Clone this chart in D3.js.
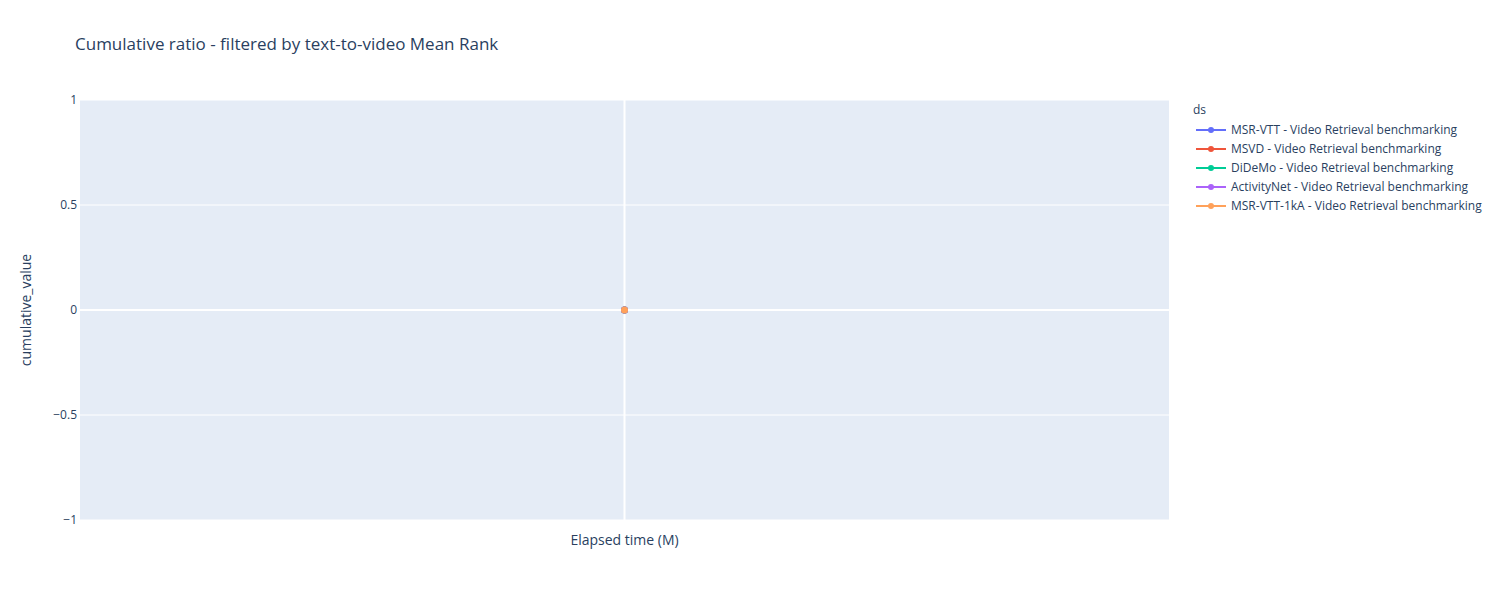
<!DOCTYPE html>
<html><head><meta charset="utf-8">
<script src="https://cdn.jsdelivr.net/npm/d3@7"></script>
<style>body{margin:0;background:#fff;} text{font-family:"Open Sans",sans-serif;}</style>
</head><body><svg id="c" width="1500" height="600"></svg>
<script>
const seriesNames = ["MSR-VTT - Video Retrieval benchmarking","MSVD - Video Retrieval benchmarking","DiDeMo - Video Retrieval benchmarking","ActivityNet - Video Retrieval benchmarking","MSR-VTT-1kA - Video Retrieval benchmarking"];
const seriesColors = ["#636efa","#EF553B","#00cc96","#ab63fa","#FFA15A"];
const xCategories = [""];
const seriesValues = [[0],[0],[0],[0],[0]];
const yTicks = [-1,-0.5,0,0.5,1];

const svg = d3.select("#c");
const L=80, T=100, R=1169, B=520;
svg.append("rect").attr("x",L).attr("y",T).attr("width",R-L).attr("height",B-T).attr("fill","#e5ecf6");
const x = d3.scalePoint().domain(xCategories).range([L,R]).padding(0.5);
const y = d3.scaleLinear().domain([-1,1]).range([B,T]);
const fmt = v => v<0 ? "\u2212"+Math.abs(v) : String(v);
// gridlines
const g = svg.append("g");
yTicks.forEach(t=>{
  g.append("line").attr("x1",L).attr("x2",R).attr("y1",y(t)).attr("y2",y(t)).attr("stroke","#fff").attr("stroke-width",t===0?2:1);
});
xCategories.forEach(c=>{
  g.append("line").attr("x1",x(c)).attr("x2",x(c)).attr("y1",T).attr("y2",B).attr("stroke","#fff").attr("stroke-width",2);
});
// y axis labels
const yAxis = d3.axisLeft(y).tickValues(yTicks).tickSize(0).tickPadding(3).tickFormat(fmt);
const ya = svg.append("g").attr("transform",`translate(${L},0)`).call(yAxis);
ya.select(".domain").remove();
ya.selectAll("text").attr("fill","#2a3f5f").style("font-size","12px").style("font-family","'Open Sans',sans-serif");
const xa = svg.append("g").attr("transform",`translate(0,${B})`).call(d3.axisBottom(x).tickSize(0));
xa.select(".domain").remove();
// series
seriesNames.forEach((n,i)=>{
  const pts = xCategories.map((c,j)=>[x(c), y(seriesValues[i][j])]);
  svg.append("path").attr("d",d3.line()(pts)).attr("stroke",seriesColors[i]).attr("stroke-width",2).attr("fill","none");
  pts.forEach(p=>svg.append("circle").attr("cx",p[0]).attr("cy",p[1]).attr("r",3.5).attr("fill",seriesColors[i]));
});
// titles
svg.append("text").attr("x",75).attr("y",50).attr("fill","#2a3f5f").style("font-size","17px").text("Cumulative ratio - filtered by text-to-video Mean Rank");
svg.append("text").attr("x",(L+R)/2).attr("y",545).attr("text-anchor","middle").attr("fill","#2a3f5f").style("font-size","14px").text("Elapsed time (M)");
svg.append("text").attr("transform",`translate(31,${(T+B)/2}) rotate(-90)`).attr("text-anchor","middle").attr("fill","#2a3f5f").style("font-size","14px").text("cumulative_value");
// legend
svg.append("text").attr("x",1193).attr("y",144).attr("fill","#2a3f5f").style("font-size","12px").text("ds").attr("y",144-30);
seriesNames.forEach((n,i)=>{
  const yy = 130 + i*19;
  const lg = svg.append("g");
  lg.append("line").attr("x1",1196).attr("x2",1226).attr("y1",yy).attr("y2",yy).attr("stroke",seriesColors[i]).attr("stroke-width",2);
  lg.append("circle").attr("cx",1211).attr("cy",yy).attr("r",3).attr("fill",seriesColors[i]);
  lg.append("text").attr("x",1231).attr("y",yy+4).attr("fill","#2a3f5f").style("font-size","12px").text(n);
});
</script></body></html>
